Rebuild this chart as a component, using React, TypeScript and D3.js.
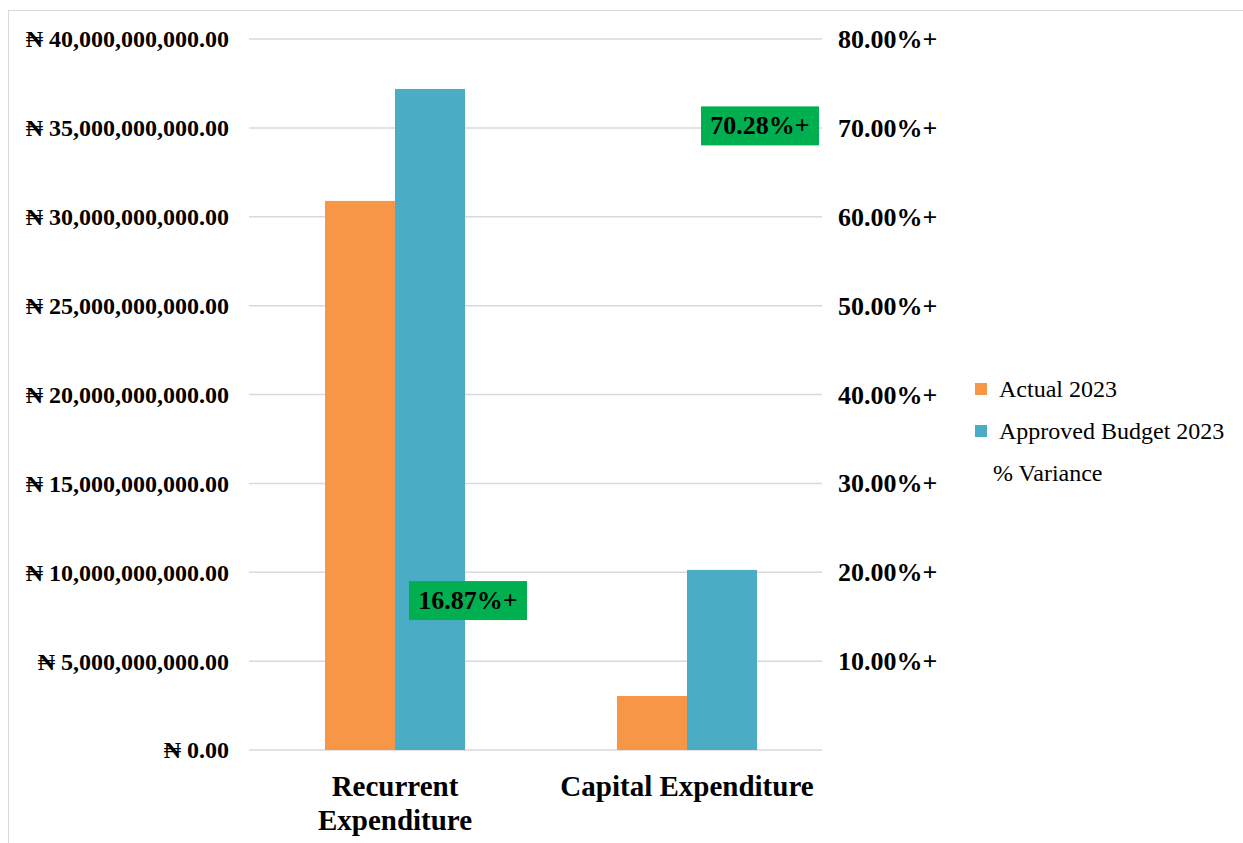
import React from "react";
import * as d3 from "d3";

const categories = ["Recurrent Expenditure", "Capital Expenditure"];
const categoryLines = [["Recurrent", "Expenditure"], ["Capital Expenditure"]];
const actual2023 = [30.89e9, 3.04e9];
const approved2023 = [37.19e9, 10.13e9];
const variance = [16.87, 70.28];
const leftTicks = [0, 5e9, 10e9, 15e9, 20e9, 25e9, 30e9, 35e9, 40e9];
const rightTicks = [10, 20, 30, 40, 50, 60, 70, 80];
const seriesNames = ["Actual 2023", "Approved Budget 2023"];
const colors = ["#F79646", "#4BACC6"];

const W = 1243;
const H = 843;
const FONT = "Liberation Serif, serif";

const App = () => {
  const x = d3.scaleBand().domain(categories).range([249, 833]);
  const y = d3.scaleLinear().domain([0, 40e9]).range([750, 39]);
  const y2 = d3.scaleLinear().domain([0, 80]).range([750, 39]);
  const barW = 70;
  const fmt = (v) => "₦ " + d3.format(",.2f")(v);

  return (
    <svg width={W} height={H} style={{ position: "absolute", left: 0, top: 0 }}>
      <g fontFamily={FONT}>
        <rect x={0} y={0} width={W} height={H} fill="#fff" />
        <line x1={8.5} x2={8.5} y1={10} y2={H} stroke="#d9d9d9" />
        <line x1={8} x2={W} y1={10.5} y2={10.5} stroke="#d9d9d9" />

        {leftTicks.map((t) => (
          <g key={t}>
            <line x1={249} x2={822} y1={y(t)} y2={y(t)} stroke="#d9d9d9" strokeWidth={1.5} />
            <text x={229} y={y(t)} dy="0.35em" textAnchor="end" fontSize={24} fontWeight="bold">
              {fmt(t)}
            </text>
          </g>
        ))}
        {rightTicks.map((t) => (
          <text key={t} x={838} y={y2(t)} dy="0.35em" fontSize={26} fontWeight="bold">
            {d3.format(".2f")(t) + "%+"}
          </text>
        ))}

        {categories.map((c, i) => {
          const cx = x(c) + x.bandwidth() / 2;
          return (
            <g key={c}>
              <rect x={cx - barW} y={y(actual2023[i])} width={barW} height={y(0) - y(actual2023[i])} fill={colors[0]} />
              <rect x={cx} y={y(approved2023[i])} width={barW} height={y(0) - y(approved2023[i])} fill={colors[1]} />
              {categoryLines[i].map((l, j) => (
                <text key={l} x={cx} y={796 + j * 34} textAnchor="middle" fontSize={29} fontWeight="bold">
                  {l}
                </text>
              ))}
              <rect x={cx + 14} y={y2(variance[i]) - 19} width={118} height={39} fill="#00B050" />
              <text x={cx + 73} y={y2(variance[i])} dy="0.35em" textAnchor="middle" fontSize={26} fontWeight="bold">
                {d3.format(".2f")(variance[i]) + "%+"}
              </text>
            </g>
          );
        })}

        {seriesNames.map((s, i) => (
          <g key={s} transform={`translate(975,${383 + i * 42})`}>
            <rect width={12} height={12} fill={colors[i]} />
            <text x={24} y={6} dy="0.35em" fontSize={24}>
              {s}
            </text>
          </g>
        ))}
        <text x={993} y={473} dy="0.35em" fontSize={24}>
          % Variance
        </text>
      </g>
    </svg>
  );
};

export default App;
